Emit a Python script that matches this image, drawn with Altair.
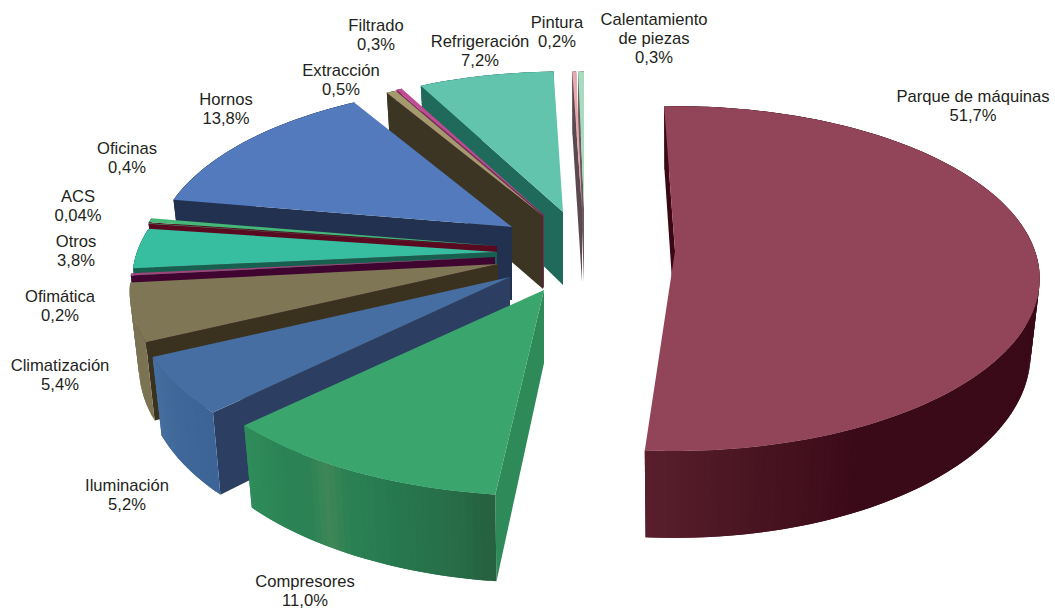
import math
import altair as alt

# Shares of electricity use per consumer, in percent
NAMES = ["Parque de máquinas", "Compresores", "Iluminación", "Climatización", "Ofimática",
         "Otros", "ACS", "Oficinas", "Hornos", "Extracción", "Filtrado", "Refrigeración",
         "Pintura", "Calentamiento\nde piezas"]
SHARES = [51.7, 11.0, 5.2, 5.4, 0.2, 3.8, 0.04, 0.4, 13.8, 0.5, 0.3, 7.2, 0.2, 0.3]
SHARE_TEXT = ["51,7%", "11,0%", "5,2%", "5,4%", "0,2%", "3,8%", "0,04%", "0,4%", "13,8%",
              "0,5%", "0,3%", "7,2%", "0,2%", "0,3%"]

# Colours: top face, cut face, and the outer rim from the clockwise-first end to the last
TOP = ["#924558", "#3aa56c", "#466ea3", "#7f7656", "#a0447c", "#37bd9f", "#45b877",
       "#45b877", "#527abd", "#a59a6d", "#c24a92", "#63c4ae", "#e8a8b0", "#a8dcc0"]
CUT = ["#3c0615", "#2f8a5a", "#2c3f63", "#3a321e", "#3f0430", "#17604f", "#5a0a20",
       "#5a0a20", "#22314f", "#3c3524", "#7a2a5a", "#1f6a5a", "#5a4a50", "#6a5a5c"]
RIM = [["#3a0a18", "#3a0a18", "#3a0a18", "#3a0a18", "#3a0a18", "#3a0a18", "#5a1f2c"],
       ["#265f3f", "#266a46", "#27704a", "#27744c", "#27784f", "#297d52", "#2a8054",
        "#3f8656", "#2b8255", "#2b8255", "#2c8656", "#2e8a58", "#2f8d5c"],
       ["#3d6496", "#3f6899", "#46709f"], ["#7b7353", "#7b7353"],
       ["#3f0430", "#3f0430"], ["#17604f", "#17604f"],
       ["#5a0a20", "#5a0a20"], ["#5a0a20", "#5a0a20"],
       ["#22314f", "#22314f"], ["#3c3524", "#3c3524"],
       ["#7a2a5a", "#7a2a5a"], ["#1f6a5a", "#1f6a5a"],
       ["#5a4a50", "#5a4a50"], ["#6a5a5c", "#6a5a5c"]]

# Where each pulled-out wedge has its tip, its extra turn in degrees and its size factors
TIP_X = [675, 544, 510, 498, 495, 497, 497, 497, 512, 543, 544, 563, 582, 584]
TIP_Y = [251, 290, 277, 264, 257, 252, 247, 246, 227, 216, 215, 212, 209, 209]
TURN = [-2, 0.3, 0, 0, 0, 0, 0, 0, 0, 0, 0, 0, 0, 0]
SIZE_X = [1, 1.03, 1.025, 1.01, 1, 1, 1, 1, 0.98, 0.97, 0.97, 0.97, 1, 1]
SIZE_Y = [1, 1.03, 1.025, 1, 1, 1, 1, 1, 0.98, 0.97, 0.97, 0.97, 0.95, 0.95]

# Back-to-front drawing order of the wedges
PAINT_ORDER = [13, 12, 11, 10, 9, 8, 7, 6, 5, 4, 3, 2, 1, 0]

# Label anchors, at the middle of each block's first line
LABEL_X = [973, 305, 127, 60, 60, 76, 78, 127, 226, 341, 376, 480, 557, 654]
LABEL_Y = [97, 582, 486, 366, 297, 242, 197, 149, 100, 71, 26, 42, 23, 20]

# Perspective of the tilted disc
R_X, R_Y, NEAR, DEPTH, BASE_SHRINK = 360, 168, 0.16, 73, 0.975


def project(i, deg, base=False):
    t = math.radians(deg)
    x, z = math.sin(t), math.cos(t)
    w = 1 + NEAR * z
    k = BASE_SHRINK if base else 1
    return [TIP_X[i] + SIZE_X[i] * R_X * x / w * k,
            TIP_Y[i] - SIZE_Y[i] * R_Y * z / w + (DEPTH / w if base else 0)]


def mix(stops, f):
    pos = f * (len(stops) - 1)
    i = min(int(pos), len(stops) - 2)
    u = pos - i
    a, b = stops[i], stops[i + 1]
    rgb = [round(int(a[j:j + 2], 16) * (1 - u) + int(b[j:j + 2], 16) * u) for j in (1, 3, 5)]
    return "#%02x%02x%02x" % tuple(rgb)


def face(ring, fill):
    return {"type": "Feature", "properties": {"fill": fill},
            "geometry": {"type": "Polygon", "coordinates": [ring + [ring[0]]]}}


total = sum(SHARES)
starts = [sum(SHARES[:i]) / total * 360 for i in range(len(SHARES))]
faces = []
for i in PAINT_ORDER:
    a0 = starts[i] + TURN[i]
    a1 = a0 + SHARES[i] / total * 360
    tip = [TIP_X[i], TIP_Y[i]]
    low_tip = [TIP_X[i], TIP_Y[i] + DEPTH]
    faces.append(face([tip, project(i, a0), project(i, a0, True), low_tip], CUT[i]))
    n = max(2, int(a1 - a0) + 1)
    angles = [a0 + (a1 - a0) * j / n for j in range(n + 1)]
    # Rim strips overlap the next one, so no seam shows between them
    for j in range(n - 1, -1, -1):
        far = angles[min(j + 2, n)]
        ring = [project(i, angles[j]), project(i, far), project(i, far, True),
                project(i, angles[j], True)]
        faces.append(face(ring, mix(RIM[i], (j + 0.5) / n)))
    faces.append(face([tip] + [project(i, a) for a in angles], TOP[i]))

wedges = alt.Chart(alt.Data(values=faces)).mark_geoshape(strokeWidth=0).encode(
    color=alt.Color("properties.fill:N", scale=None),
).project(type="identity", scale=1, translate=[0, 0])

label_rows = [{"text": f"{n}\n{s}", "x": x, "y": y}
              for n, s, x, y in zip(NAMES, SHARE_TEXT, LABEL_X, LABEL_Y)]
labels = alt.Chart(alt.Data(values=label_rows)).mark_text(
    font="Liberation Sans", fontSize=16.6, lineHeight=19, lineBreak="\n",
    align="center", baseline="middle", color="#231f20",
).encode(x=alt.X("x:Q", scale=None), y=alt.Y("y:Q", scale=None), text="text:N")

chart = alt.layer(wedges, labels).properties(
    width=1055, height=609, padding=0, background="white",
    autosize=alt.AutoSizeParams(type="none"),
).configure_view(stroke=None)

chart.save("out.html", embed_options={"renderer": "svg", "actions": False})
